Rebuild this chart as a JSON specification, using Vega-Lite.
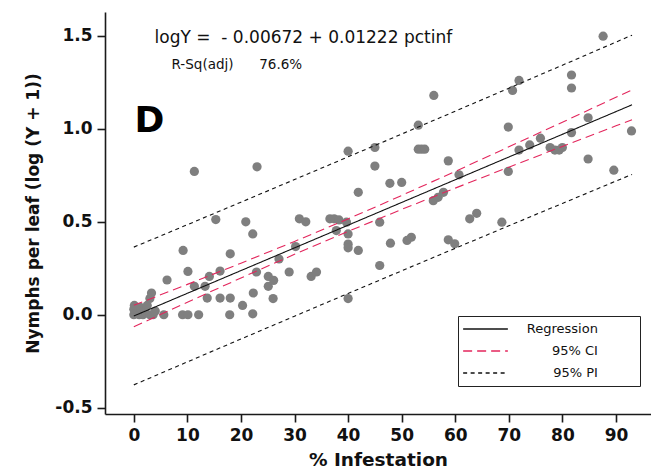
{
  "$schema": "https://vega.github.io/schema/vega-lite/v6.json",
  "width": 546,
  "height": 402,
  "autosize": {"type": "none"},
  "padding": {"left": 105, "top": 12, "right": 0, "bottom": 55},
  "background": "white",
  "config": {
    "view": {"stroke": null},
    "font": "DejaVu Sans",
    "axis": {
      "grid": false,
      "domainColor": "#1a1a1a",
      "domainWidth": 1.6,
      "tickColor": "#1a1a1a",
      "tickWidth": 1.6,
      "tickSize": 8,
      "labelFont": "DejaVu Sans",
      "labelFontWeight": "bold",
      "labelFontSize": 17,
      "labelColor": "#111",
      "titleFont": "DejaVu Sans",
      "titleFontWeight": "bold",
      "titleFontSize": 17,
      "titleColor": "#111"
    }
  },
  "datasets": {
    "obs": [
      {"pct": 0, "logy": 0},
      {"pct": 0, "logy": 0.03},
      {"pct": 0.1, "logy": 0.05},
      {"pct": 1, "logy": 0},
      {"pct": 1.2, "logy": 0.04},
      {"pct": 1.7, "logy": 0},
      {"pct": 2, "logy": 0.02},
      {"pct": 2.5, "logy": 0.05},
      {"pct": 3, "logy": 0.088},
      {"pct": 3, "logy": 0},
      {"pct": 3.3, "logy": 0.117},
      {"pct": 3.6, "logy": 0},
      {"pct": 4, "logy": 0.02},
      {"pct": 5.6, "logy": 0},
      {"pct": 6.2, "logy": 0.187},
      {"pct": 9.1, "logy": 0},
      {"pct": 9.2, "logy": 0.346},
      {"pct": 10.1, "logy": 0},
      {"pct": 10.1, "logy": 0.233},
      {"pct": 11.3, "logy": 0.153},
      {"pct": 11.3, "logy": 0.771},
      {"pct": 12.1, "logy": 0},
      {"pct": 13.3, "logy": 0.153},
      {"pct": 13.7, "logy": 0.09},
      {"pct": 14.1, "logy": 0.206},
      {"pct": 15.3, "logy": 0.512},
      {"pct": 16.1, "logy": 0.235},
      {"pct": 16.1, "logy": 0.09},
      {"pct": 17.9, "logy": 0},
      {"pct": 18.0, "logy": 0.09},
      {"pct": 18.0, "logy": 0.328},
      {"pct": 20.3, "logy": 0.05},
      {"pct": 20.9, "logy": 0.5},
      {"pct": 22.2, "logy": 0.435},
      {"pct": 22.3, "logy": 0.117},
      {"pct": 22.2, "logy": 0.005},
      {"pct": 23.0, "logy": 0.796},
      {"pct": 22.9, "logy": 0.23},
      {"pct": 25.1, "logy": 0.206},
      {"pct": 25.1, "logy": 0.153},
      {"pct": 26.1, "logy": 0.185},
      {"pct": 26.0, "logy": 0.087},
      {"pct": 27.1, "logy": 0.3},
      {"pct": 29.0, "logy": 0.23},
      {"pct": 30.2, "logy": 0.367},
      {"pct": 30.9, "logy": 0.516},
      {"pct": 32.1, "logy": 0.5},
      {"pct": 33.1, "logy": 0.206},
      {"pct": 34.1, "logy": 0.23},
      {"pct": 36.6, "logy": 0.516},
      {"pct": 37.4, "logy": 0.516},
      {"pct": 38.3, "logy": 0.51},
      {"pct": 37.8, "logy": 0.453},
      {"pct": 39.7, "logy": 0.498},
      {"pct": 40, "logy": 0.435},
      {"pct": 40, "logy": 0.38},
      {"pct": 40, "logy": 0.36},
      {"pct": 40, "logy": 0.087},
      {"pct": 40, "logy": 0.88},
      {"pct": 41.9, "logy": 0.659},
      {"pct": 41.9, "logy": 0.346},
      {"pct": 45, "logy": 0.9},
      {"pct": 45, "logy": 0.8},
      {"pct": 45.9, "logy": 0.498},
      {"pct": 45.9, "logy": 0.265},
      {"pct": 47.8, "logy": 0.707},
      {"pct": 50, "logy": 0.712},
      {"pct": 47.9, "logy": 0.385},
      {"pct": 51.0, "logy": 0.4},
      {"pct": 51.8, "logy": 0.417},
      {"pct": 53.1, "logy": 1.02},
      {"pct": 53.1, "logy": 0.891},
      {"pct": 53.7, "logy": 0.891},
      {"pct": 54.3, "logy": 0.891},
      {"pct": 56, "logy": 1.18},
      {"pct": 55.9, "logy": 0.614},
      {"pct": 56.8, "logy": 0.632},
      {"pct": 57.8, "logy": 0.659},
      {"pct": 58.7, "logy": 0.828},
      {"pct": 58.7, "logy": 0.403},
      {"pct": 59.9, "logy": 0.382},
      {"pct": 60.7, "logy": 0.753},
      {"pct": 62.7, "logy": 0.516},
      {"pct": 64, "logy": 0.546},
      {"pct": 68.7, "logy": 0.498},
      {"pct": 69.9, "logy": 0.771},
      {"pct": 69.9, "logy": 1.01},
      {"pct": 70.7, "logy": 1.207},
      {"pct": 71.9, "logy": 1.261},
      {"pct": 71.9, "logy": 0.886},
      {"pct": 73.9, "logy": 0.914},
      {"pct": 75.9, "logy": 0.95},
      {"pct": 77.7, "logy": 0.9},
      {"pct": 78.6, "logy": 0.886},
      {"pct": 79.4, "logy": 0.886},
      {"pct": 80, "logy": 0.9},
      {"pct": 81.7, "logy": 1.29},
      {"pct": 81.7, "logy": 1.22},
      {"pct": 81.7, "logy": 0.98},
      {"pct": 84.8, "logy": 1.06},
      {"pct": 84.8, "logy": 0.838},
      {"pct": 87.6, "logy": 1.499},
      {"pct": 89.6, "logy": 0.778},
      {"pct": 92.9, "logy": 0.989}
    ],
    "fit": [
      {"pct": 0, "logy": -0.0067, "series": "Regression", "bound": "fit"},
      {"pct": 93, "logy": 1.1297, "series": "Regression", "bound": "fit"},
      {"pct": 0, "logy": -0.0646, "series": "95% CI", "bound": "cil"},
      {"pct": 10, "logy": 0.0676, "series": "95% CI", "bound": "cil"},
      {"pct": 20, "logy": 0.198, "series": "95% CI", "bound": "cil"},
      {"pct": 30, "logy": 0.3254, "series": "95% CI", "bound": "cil"},
      {"pct": 40, "logy": 0.4484, "series": "95% CI", "bound": "cil"},
      {"pct": 50, "logy": 0.5667, "series": "95% CI", "bound": "cil"},
      {"pct": 60, "logy": 0.6814, "series": "95% CI", "bound": "cil"},
      {"pct": 70, "logy": 0.7941, "series": "95% CI", "bound": "cil"},
      {"pct": 80, "logy": 0.9056, "series": "95% CI", "bound": "cil"},
      {"pct": 90, "logy": 1.0164, "series": "95% CI", "bound": "cil"},
      {"pct": 93, "logy": 1.0495, "series": "95% CI", "bound": "cil"},
      {"pct": 0, "logy": 0.0512, "series": "95% CI", "bound": "ciu"},
      {"pct": 10, "logy": 0.1634, "series": "95% CI", "bound": "ciu"},
      {"pct": 20, "logy": 0.2774, "series": "95% CI", "bound": "ciu"},
      {"pct": 30, "logy": 0.3944, "series": "95% CI", "bound": "ciu"},
      {"pct": 40, "logy": 0.5158, "series": "95% CI", "bound": "ciu"},
      {"pct": 50, "logy": 0.6419, "series": "95% CI", "bound": "ciu"},
      {"pct": 60, "logy": 0.7716, "series": "95% CI", "bound": "ciu"},
      {"pct": 70, "logy": 0.9033, "series": "95% CI", "bound": "ciu"},
      {"pct": 80, "logy": 1.0362, "series": "95% CI", "bound": "ciu"},
      {"pct": 90, "logy": 1.1698, "series": "95% CI", "bound": "ciu"},
      {"pct": 93, "logy": 1.2099, "series": "95% CI", "bound": "ciu"},
      {"pct": 0, "logy": -0.3773, "series": "95% PI", "bound": "pil"},
      {"pct": 10, "logy": -0.2536, "series": "95% PI", "bound": "pil"},
      {"pct": 20, "logy": -0.1304, "series": "95% PI", "bound": "pil"},
      {"pct": 30, "logy": -0.0077, "series": "95% PI", "bound": "pil"},
      {"pct": 40, "logy": 0.1146, "series": "95% PI", "bound": "pil"},
      {"pct": 50, "logy": 0.2364, "series": "95% PI", "bound": "pil"},
      {"pct": 60, "logy": 0.3577, "series": "95% PI", "bound": "pil"},
      {"pct": 70, "logy": 0.4787, "series": "95% PI", "bound": "pil"},
      {"pct": 80, "logy": 0.5991, "series": "95% PI", "bound": "pil"},
      {"pct": 90, "logy": 0.7192, "series": "95% PI", "bound": "pil"},
      {"pct": 93, "logy": 0.755, "series": "95% PI", "bound": "pil"},
      {"pct": 0, "logy": 0.3639, "series": "95% PI", "bound": "piu"},
      {"pct": 10, "logy": 0.4846, "series": "95% PI", "bound": "piu"},
      {"pct": 20, "logy": 0.6058, "series": "95% PI", "bound": "piu"},
      {"pct": 30, "logy": 0.7275, "series": "95% PI", "bound": "piu"},
      {"pct": 40, "logy": 0.8496, "series": "95% PI", "bound": "piu"},
      {"pct": 50, "logy": 0.9722, "series": "95% PI", "bound": "piu"},
      {"pct": 60, "logy": 1.0953, "series": "95% PI", "bound": "piu"},
      {"pct": 70, "logy": 1.2187, "series": "95% PI", "bound": "piu"},
      {"pct": 80, "logy": 1.3427, "series": "95% PI", "bound": "piu"},
      {"pct": 90, "logy": 1.467, "series": "95% PI", "bound": "piu"},
      {"pct": 93, "logy": 1.5044, "series": "95% PI", "bound": "piu"}
    ]
  },
  "layer": [
    {
      "mark": {"type": "rule", "color": "#333", "strokeWidth": 1.5},
      "encoding": {"y": {"datum": 1.629, "type": "quantitative"}}
    },
    {
      "data": {"name": "obs"},
      "mark": {"type": "point", "filled": true, "shape": "circle", "size": 85, "color": "#7f7f7f", "opacity": 1},
      "encoding": {
        "x": {
          "field": "pct", "type": "quantitative",
          "scale": {"domain": [-5.38, 96.54], "nice": false, "zero": false},
          "axis": {"values": [0, 10, 20, 30, 40, 50, 60, 70, 80, 90], "title": "% Infestation", "titleFontSize": 18.5, "labelPadding": 5, "titlePadding": 7}
        },
        "y": {
          "field": "logy", "type": "quantitative",
          "scale": {"domain": [-0.534, 1.629], "nice": false, "zero": false},
          "axis": {
            "values": [-0.5, 0, 0.5, 1, 1.5],
            "labelExpr": "datum.value < 0 ? '-' + format(-datum.value, '.1f') : format(datum.value, '.1f')",
            "title": "Nymphs per leaf (log (Y + 1))", "labelPadding": 5, "titlePadding": 12
          }
        }
      }
    },
    {
      "data": {"name": "fit"},
      "mark": {"type": "line", "strokeWidth": 1.1},
      "encoding": {
        "x": {"field": "pct", "type": "quantitative"},
        "y": {"field": "logy", "type": "quantitative"},
        "detail": {"field": "bound"},
        "color": {
          "field": "series", "type": "nominal",
          "scale": {"domain": ["Regression", "95% CI", "95% PI"], "range": ["#111111", "#e3265c", "#111111"]},
          "legend": {
            "title": null,
            "orient": "none",
            "legendX": 353,
            "legendY": 304,
            "strokeColor": "#222",
            "padding": 4,
            "clipHeight": 18,
            "rowPadding": 4,
            "symbolType": "stroke",
            "symbolSize": 2000,
            "symbolStrokeWidth": 1.3,
            "labelFont": "DejaVu Sans",
            "labelFontSize": 13,
            "labelColor": "#111",
            "labelAlign": "right",
            "labelOffset": 127,
            "labelExpr": "datum.label + '\u2800\u2800\u2800\u2800'"
          }
        },
        "strokeDash": {
          "field": "series", "type": "nominal",
          "scale": {"domain": ["Regression", "95% CI", "95% PI"], "range": [[1, 0], [9, 5], [4, 3.5]]}
        }
      }
    },
    {
      "data": {"values": [{}]},
      "mark": {"type": "text", "align": "left", "baseline": "middle", "fontSize": 17, "font": "DejaVu Sans", "color": "#111"},
      "encoding": {"x": {"datum": 3.87, "type": "quantitative"}, "y": {"datum": 1.488, "type": "quantitative"}, "text": {"value": "logY =\u00a0 - 0.00672 + 0.01222 pctinf"}}
    },
    {
      "data": {"values": [{}]},
      "mark": {"type": "text", "align": "left", "baseline": "middle", "fontSize": 13.5, "font": "DejaVu Sans", "color": "#111"},
      "encoding": {"x": {"datum": 7.04, "type": "quantitative"}, "y": {"datum": 1.342, "type": "quantitative"}, "text": {"value": "R-Sq(adj)\u00a0\u00a0\u00a0\u00a0\u00a0\u00a076.6%"}}
    },
    {
      "data": {"values": [{}]},
      "mark": {"type": "text", "align": "left", "baseline": "middle", "fontSize": 36, "fontWeight": "bold", "font": "DejaVu Sans", "color": "#000"},
      "encoding": {"x": {"datum": 0.13, "type": "quantitative"}, "y": {"datum": 1.04, "type": "quantitative"}, "text": {"value": "D"}}
    }
  ]
}
